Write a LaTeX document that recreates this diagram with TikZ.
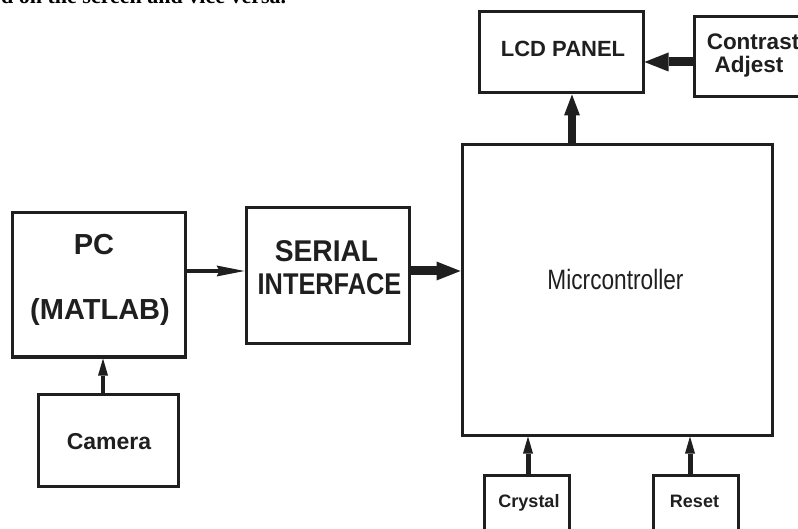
\documentclass[tikz,border=0pt]{standalone}
\usepackage{fontspec}
\setmainfont{Liberation Sans}
\newfontfamily\topserif{Liberation Serif}
\usetikzlibrary{arrows.meta}
\tikzset{
  blk/.style={draw=black!88, line width=3pt, inner sep=0pt},
  lbl/.style={anchor=base, inner sep=0pt, text=black!88},
  thinarr/.style={draw=black!88, line width=4.5pt, -{Stealth[length=28pt,width=11pt,inset=3pt,line width=0pt]}},
  smallarr/.style={draw=black!88, line width=4pt, -{Triangle[length=17pt,width=10pt,line width=0pt]}},
  thickarr/.style={draw=black!88, line width=9pt, -{Triangle[length=24pt,width=19pt,line width=0pt]}},
}
\newcommand{\fsz}[1]{\fontsize{#1}{#1}\selectfont}
\begin{document}
\begin{tikzpicture}[x=1pt,y=-1pt]
\useasboundingbox (0,0) rectangle (798,529);
\clip (0,0) rectangle (798,529);
\fill[white] (0,0) rectangle (798,529);

% cut-off text at the top
\node[anchor=base west, inner sep=0pt, font=\topserif\bfseries\fsz{22}] (toptext) at (1,4) {d on the screen and vice versa.};

% boxes
\node[blk, minimum width=164pt, minimum height=81pt] (lcd) at (561,52.5) {};
\node[blk, minimum width=136pt, minimum height=80pt] (contrast) at (762,57) {};
\node[blk, minimum width=310pt, minimum height=290pt] (micro) at (617,290) {};
\node[blk, minimum width=173pt, minimum height=144pt] (pc) at (98.5,285) {};
\node[blk, minimum width=163pt, minimum height=136pt] (serial) at (327.5,276) {};
\node[blk, minimum width=140pt, minimum height=92pt] (camera) at (108,440) {};
\node[blk, minimum width=85pt, minimum height=85pt] (crystal) at (526.5,517.5) {};
\node[blk, minimum width=85pt, minimum height=85pt] (reset) at (695.5,517.5) {};

% labels
\node[lbl, font=\bfseries\fsz{22}] (tlcd) at (563,57) {LCD PANEL};
\node[lbl, font=\bfseries\fsz{22.5}] (tcon1) at (753,50) {Contrast};
\node[lbl, font=\bfseries\fsz{22.5}] (tcon2) at (749,73) {Adjest};
\node[lbl, font=\bfseries\fsz{29}] (tpc1) at (94,255) {PC};
\node[lbl, font=\bfseries\fsz{29}] (tpc2) at (100,320) {(MATLAB)};
\node[lbl, font=\bfseries\fsz{30}] (tser1) at (326.5,262) {\scalebox{0.94}[1]{SERIAL}};
\node[lbl, font=\bfseries\fsz{30}] (tser2) at (329.5,295) {\scalebox{0.845}[1]{INTERFACE}};
\node[lbl, font=\fsz{28}] (tmic) at (615.5,290) {\scalebox{0.81}[1]{Micrcontroller}};
\node[lbl, font=\bfseries\fsz{23}] (tcam) at (109,449) {Camera};
\node[lbl, font=\bfseries\fsz{18}] (tcry) at (529,507) {Crystal};
\node[lbl, font=\bfseries\fsz{18}] (tres) at (694.5,507) {Reset};

% connectors
\coordinate (rowA) at (0,271);
\coordinate (rowB) at (0,62);
\coordinate (colA) at (103,0);
\coordinate (colB) at (572,0);
\coordinate (colC) at (528,0);
\coordinate (colD) at (690,0);
\draw[thinarr] (pc.east |- rowA) -- (serial.west |- rowA);
\draw[thickarr] (serial.east |- rowA) -- (micro.west |- rowA);
\draw[smallarr] (camera.north -| colA) -- (pc.south -| colA);
\draw[thickarr] (contrast.west |- rowB) -- (lcd.east |- rowB);
\draw[thickarr, line width=8pt, -{Triangle[length=21pt,width=16pt,line width=0pt]}] (micro.north -| colB) -- (lcd.south -| colB);
\draw[smallarr, line width=5pt] (crystal.north -| colC) -- (micro.south -| colC);
\draw[smallarr, line width=5pt] (reset.north -| colD) -- (micro.south -| colD);
\end{tikzpicture}
\end{document}
